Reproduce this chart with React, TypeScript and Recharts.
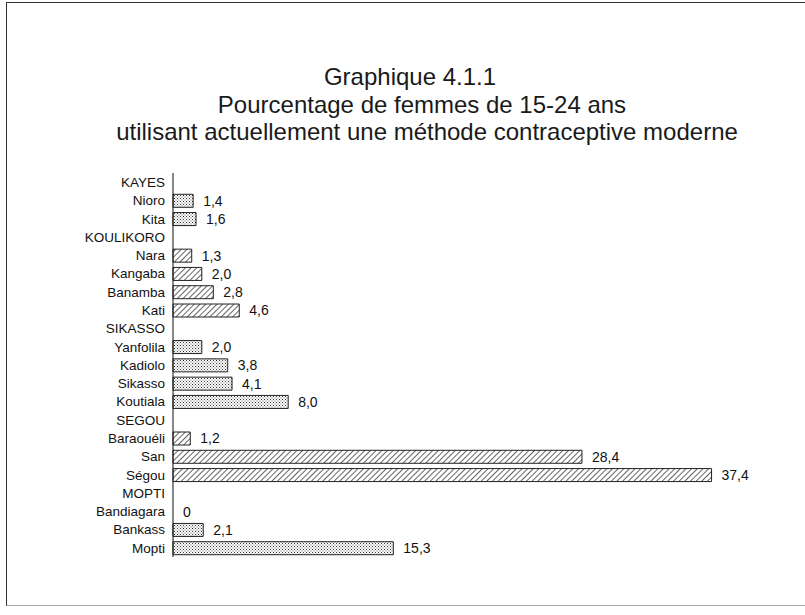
import { BarChart, Bar, XAxis, YAxis, Cell, LabelList } from "recharts";

// Regions (upper case) carry no bar; cercles carry the value
const categories = [
  "KAYES", "Nioro", "Kita",
  "KOULIKORO", "Nara", "Kangaba", "Banamba", "Kati",
  "SIKASSO", "Yanfolila", "Kadiolo", "Sikasso", "Koutiala",
  "SEGOU", "Baraouéli", "San", "Ségou",
  "MOPTI", "Bandiagara", "Bankass", "Mopti",
];

const values: (number | null)[] = [
  null, 1.4, 1.6,
  null, 1.3, 2.0, 2.8, 4.6,
  null, 2.0, 3.8, 4.1, 8.0,
  null, 1.2, 28.4, 37.4,
  null, 0, 2.1, 15.3,
];

// cercles drawn with diagonal hatching, the rest are stippled
const hatched = ["Nara", "Kangaba", "Banamba", "Kati", "Baraouéli", "San", "Ségou"];

const titleLines = [
  "Graphique 4.1.1",
  "Pourcentage de femmes de 15-24 ans",
  "utilisant actuellement une méthode contraceptive moderne",
];

const xTicks = [0, 10, 20, 30, 40];

const data = categories.map((name, i) => ({ name, value: values[i] }));

const FONT = "'Liberation Sans', Arial, sans-serif";

function fmt(v: unknown) {
  if (v === null || v === undefined) return "";
  const n = Number(v);
  if (n === 0) return "0";
  return n.toFixed(1).replace(".", ",");
}

// centre x of each title line (the scan is slightly skewed)
const titleCx = [410, 422, 427];

export default function App() {
  return (
    <div
      style={{
        position: "absolute",
        left: 0,
        top: 0,
        width: 805,
        height: 615,
        background: "#fff",
        overflow: "hidden",
        fontFamily: FONT,
      }}
    >
      {/* pattern fills shared by the bars */}
      <svg width={0} height={0} style={{ position: "absolute" }}>
        <defs>
          <pattern id="dots" width={3} height={3} patternUnits="userSpaceOnUse">
            <rect width={3} height={3} fill="#fff" />
            <rect x={0} y={0} width={1} height={1} fill="#333" />
            <rect x={1.5} y={1.5} width={1} height={1} fill="#555" />
          </pattern>
          <pattern
            id="hatch"
            width={4}
            height={4}
            patternUnits="userSpaceOnUse"
            patternTransform="rotate(45)"
          >
            <rect width={4} height={4} fill="#fff" />
            <line x1={0} y1={0} x2={0} y2={4} stroke="#222" strokeWidth={1.4} />
          </pattern>
        </defs>
      </svg>

      {/* scanned frame: left, top and bottom edges */}
      <div style={{ position: "absolute", left: 6, top: 2, width: 820, height: 602, borderLeft: "1.5px solid #333", borderTop: "1.5px solid #333", borderBottom: "1px solid #aaa" }} />

      {titleLines.map((t, i) => (
        <div
          key={t}
          style={{
            position: "absolute",
            left: titleCx[i] - 400,
            width: 800,
            top: 63 + i * 27.5,
            textAlign: "center",
            fontSize: 24,
            lineHeight: "28px",
            color: "#1a1a1a",
            whiteSpace: "nowrap",
          }}
        >
          {t}
        </div>
      ))}

      <div style={{ position: "absolute", left: 0, top: 0 }}>
        <BarChart
          width={805}
          height={615}
          data={data}
          layout="vertical"
          margin={{ top: 173, right: 56, bottom: 58, left: 0 }}
          barCategoryGap={4}
        >
          <XAxis type="number" domain={[0, 40]} ticks={xTicks} hide />
          <YAxis
            type="category"
            dataKey="name"
            width={173}
            interval={0}
            tickLine={false}
            tickSize={0}
            tickMargin={8}
            axisLine={{ stroke: "#111", strokeWidth: 1 }}
            tick={{ fill: "#111", fontSize: 13.5, fontFamily: FONT }}
          />
          <Bar
            dataKey="value"
            barSize={13}
            strokeWidth={1}
            minPointSize={(v: number) => (v === 0 ? 0.01 : 0)}
            isAnimationActive={false}
          >
            {data.map((d) => (
              <Cell
                key={d.name}
                stroke={d.value ? "#222" : "none"}
                fill={hatched.includes(d.name) ? "url(#hatch)" : "url(#dots)"}
              />
            ))}
            <LabelList
              dataKey="value"
              position="right"
              offset={10}
              formatter={fmt}
              style={{ fill: "#111", fontSize: 14, fontFamily: FONT }}
            />
          </Bar>
        </BarChart>
      </div>
    </div>
  );
}
